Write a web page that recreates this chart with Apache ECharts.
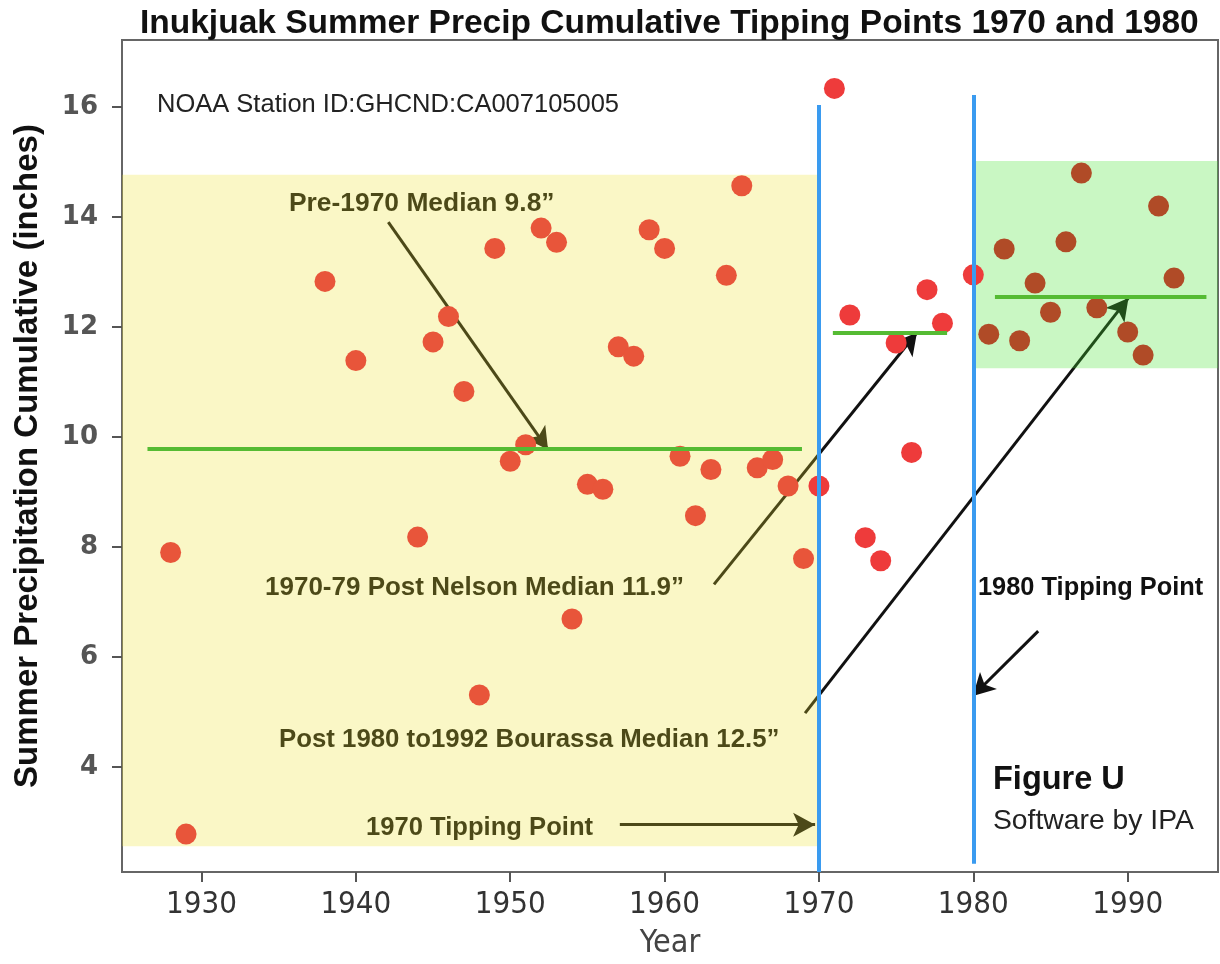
<!DOCTYPE html>
<html>
<head>
<meta charset="utf-8">
<title>Inukjuak Summer Precip Cumulative Tipping Points</title>
<script src="https://cdn.jsdelivr.net/npm/echarts@6/dist/echarts.min.js"></script>
<style>
  html, body { margin: 0; padding: 0; background: #fff; }
  #main { width: 1220px; height: 964px; }
</style>
</head>
<body>
<div id="main"></div>
<script>
// summer precipitation at Inukjuak (inches)
const years = [1928, 1929, 1938, 1940, 1944, 1945, 1946, 1947, 1948, 1949,
  1950, 1951, 1952, 1953, 1954, 1955, 1956, 1957, 1958, 1959,
  1960, 1961, 1962, 1963, 1964, 1965, 1966, 1967, 1968, 1969,
  1970, 1971, 1972, 1973, 1974, 1975, 1976, 1977, 1978,
  1980, 1981, 1982, 1983, 1984, 1985, 1986, 1987, 1988, 1990, 1991, 1992, 1993];
const precip = [7.9, 2.78, 12.83, 11.39, 8.18, 11.73, 12.19, 10.83, 5.31, 13.43,
  9.56, 9.86, 13.8, 13.54, 6.69, 9.14, 9.05, 11.64, 11.47, 13.77,
  13.43, 9.65, 8.57, 9.41, 12.94, 14.57, 9.44, 9.59, 9.11, 7.79,
  9.11, 16.34, 12.22, 8.17, 7.75, 11.71, 9.72, 12.68, 12.07,
  12.95, 11.87, 13.42, 11.75, 12.8, 12.27, 13.55, 14.8, 12.35, 11.91, 11.49, 14.2, 12.89];

const xTicks = [1930, 1940, 1950, 1960, 1970, 1980, 1990];
const yTicks = [4, 6, 8, 10, 12, 14, 16];

// median segments: [fromYear, toYear, median]
const medians = [
  [1926.5, 1968.9, 9.79],
  [1970.9, 1978.3, 11.9],
  [1981.4, 1995.1, 12.55]
];
// tipping point lines: [year, low, high]
const tipping = [
  [1970, 2.09, 16.04],
  [1980, 2.24, 16.22]
];
// shaded periods: [fromYear, toYear, low, high]
const preBand = [1924.85, 1969.95, 2.56, 14.77];
const postBand = [1980.1, 1995.85, 11.25, 15.02];
// annotation arrows: [fromYear, fromValue, toYear, toValue]
const arrows = [
  [1942.1, 13.91, 1952.45, 9.77],
  [1963.2, 7.32, 1976.35, 11.9],
  [1969.1, 4.98, 1990.05, 12.53],
  [1957.1, 2.95, 1969.75, 2.95],
  [1984.2, 6.47, 1979.97, 5.29]
];

const sans = "'Liberation Sans', Arial, Helvetica, sans-serif";
const narrow = "'DejaVu Sans Condensed', 'Liberation Sans Narrow', 'DejaVu Sans', sans-serif";

let myChart = echarts.init(document.getElementById('main'));

myChart.setOption({
  animation: false,
  backgroundColor: '#fff',
  title: {
    text: 'Inukjuak Summer Precip Cumulative Tipping Points 1970 and 1980',
    left: 135,
    top: 2,
    textStyle: { fontFamily: sans, fontSize: 33.5, fontWeight: 'bold', color: '#111' }
  },
  grid: {
    left: 122, right: 2, top: 40, bottom: 92,
    outerBoundsMode: 'none',
    show: true, borderColor: '#666', borderWidth: 2, backgroundColor: '#fff'
  },
  xAxis: {
    type: 'value',
    min: 1924.85,
    max: 1995.85,
    name: 'Year',
    nameLocation: 'middle',
    nameGap: 56,
    nameTextStyle: { fontFamily: narrow, fontSize: 32, color: '#444' },
    axisLine: { lineStyle: { color: '#666', width: 2 } },
    axisTick: { customValues: xTicks, length: 10, lineStyle: { color: '#555', width: 2 } },
    axisLabel: {
      customValues: xTicks, margin: 17, fontFamily: narrow, fontSize: 31, color: '#333',
      formatter: v => String(v)
    },
    splitLine: { show: false }
  },
  yAxis: {
    type: 'value',
    min: 2.09,
    max: 17.22,
    name: 'Summer Precipitation Cumulative (inches)',
    nameLocation: 'middle',
    nameGap: 78,
    nameTextStyle: { fontFamily: sans, fontSize: 33, fontWeight: 'bold', color: '#111' },
    axisLine: { lineStyle: { color: '#666', width: 2 } },
    axisTick: { customValues: yTicks, length: 10, lineStyle: { color: '#555', width: 2 } },
    axisLabel: {
      customValues: yTicks, margin: 24, fontFamily: "'DejaVu Sans', sans-serif",
      fontSize: 26, fontWeight: 'bold', color: '#555'
    },
    splitLine: { show: false }
  },
  graphic: [
    { type: 'text', z: 1, x: 157, y: 105, style: { text: 'NOAA Station ID:GHCND:CA007105005', font: '25.5px ' + sans, fill: '#222', textVerticalAlign: 'middle' } },
    { type: 'text', z: 1, x: 289, y: 204, style: { text: 'Pre-1970 Median 9.8\u201d', font: 'bold 26.4px ' + sans, fill: '#111', textVerticalAlign: 'middle' } },
    { type: 'text', z: 1, x: 265, y: 588, style: { text: '1970-79 Post Nelson Median 11.9\u201d', font: 'bold 26px ' + sans, fill: '#111', textVerticalAlign: 'middle' } },
    { type: 'text', z: 1, x: 279, y: 740, style: { text: 'Post 1980 to1992 Bourassa Median 12.5\u201d', font: 'bold 25.8px ' + sans, fill: '#111', textVerticalAlign: 'middle' } },
    { type: 'text', z: 1, x: 366, y: 828, style: { text: '1970 Tipping Point', font: 'bold 25.6px ' + sans, fill: '#111', textVerticalAlign: 'middle' } },
    { type: 'text', z: 1, x: 978, y: 588, style: { text: '1980 Tipping Point', font: 'bold 25.4px ' + sans, fill: '#111', textVerticalAlign: 'middle' } },
    { type: 'text', z: 1, x: 993, y: 780, style: { text: 'Figure U', font: 'bold 32.5px ' + sans, fill: '#111', textVerticalAlign: 'middle' } },
    { type: 'text', z: 1, x: 993, y: 821, style: { text: 'Software by IPA', font: '28.3px ' + sans, fill: '#222', textVerticalAlign: 'middle' } }
  ],
  series: [
    {
      // annotation arrows, sit under the shading
      name: 'arrows',
      type: 'scatter',
      data: [],
      markLine: {
        silent: true,
        z: 6,
        symbol: ['none', 'arrow'],
        symbolSize: [18, 22],
        label: { show: false },
        lineStyle: { color: '#111', width: 3, type: 'solid' },
        data: arrows.map(a => [{ coord: [a[0], a[1]] }, { coord: [a[2], a[3]] }])
      }
    },
    {
      // shaded periods
      name: 'periods',
      type: 'scatter',
      data: [],
      markArea: {
        silent: true,
        z: 10,
        data: [
          [{ coord: [preBand[0], preBand[3]], itemStyle: { color: 'rgba(237,226,44,0.27)' } }, { coord: [preBand[1], preBand[2]] }],
          [{ coord: [postBand[0], postBand[3]], itemStyle: { color: 'rgba(68,228,48,0.29)' } }, { coord: [postBand[1], postBand[2]] }]
        ]
      }
    },
    {
      name: 'Summer precip',
      type: 'scatter',
      z: 11,
      symbolSize: 21,
      itemStyle: {
        opacity: 1,
        color: p => p.value[0] < 1970 ? '#E8553A' : (p.value[0] > 1980 ? '#B04B27' : '#EE3B3B')
      },
      data: years.map((y, i) => [y, precip[i]])
    },
    {
      name: 'medians',
      type: 'scatter',
      data: [],
      markLine: {
        silent: true,
        z: 12,
        symbol: ['none', 'none'],
        label: { show: false },
        lineStyle: { color: '#55BB33', width: 4, type: 'solid' },
        data: medians.map(m => [{ coord: [m[0], m[2]] }, { coord: [m[1], m[2]] }])
      }
    },
    {
      name: 'tipping points',
      type: 'scatter',
      data: [],
      markLine: {
        silent: true,
        z: 12,
        symbol: ['none', 'none'],
        label: { show: false },
        lineStyle: { color: '#3A9BF0', width: 4, type: 'solid' },
        data: tipping.map(t => [{ coord: [t[0], t[1]] }, { coord: [t[0], t[2]] }])
      }
    }
  ]
});
</script>
</body>
</html>
